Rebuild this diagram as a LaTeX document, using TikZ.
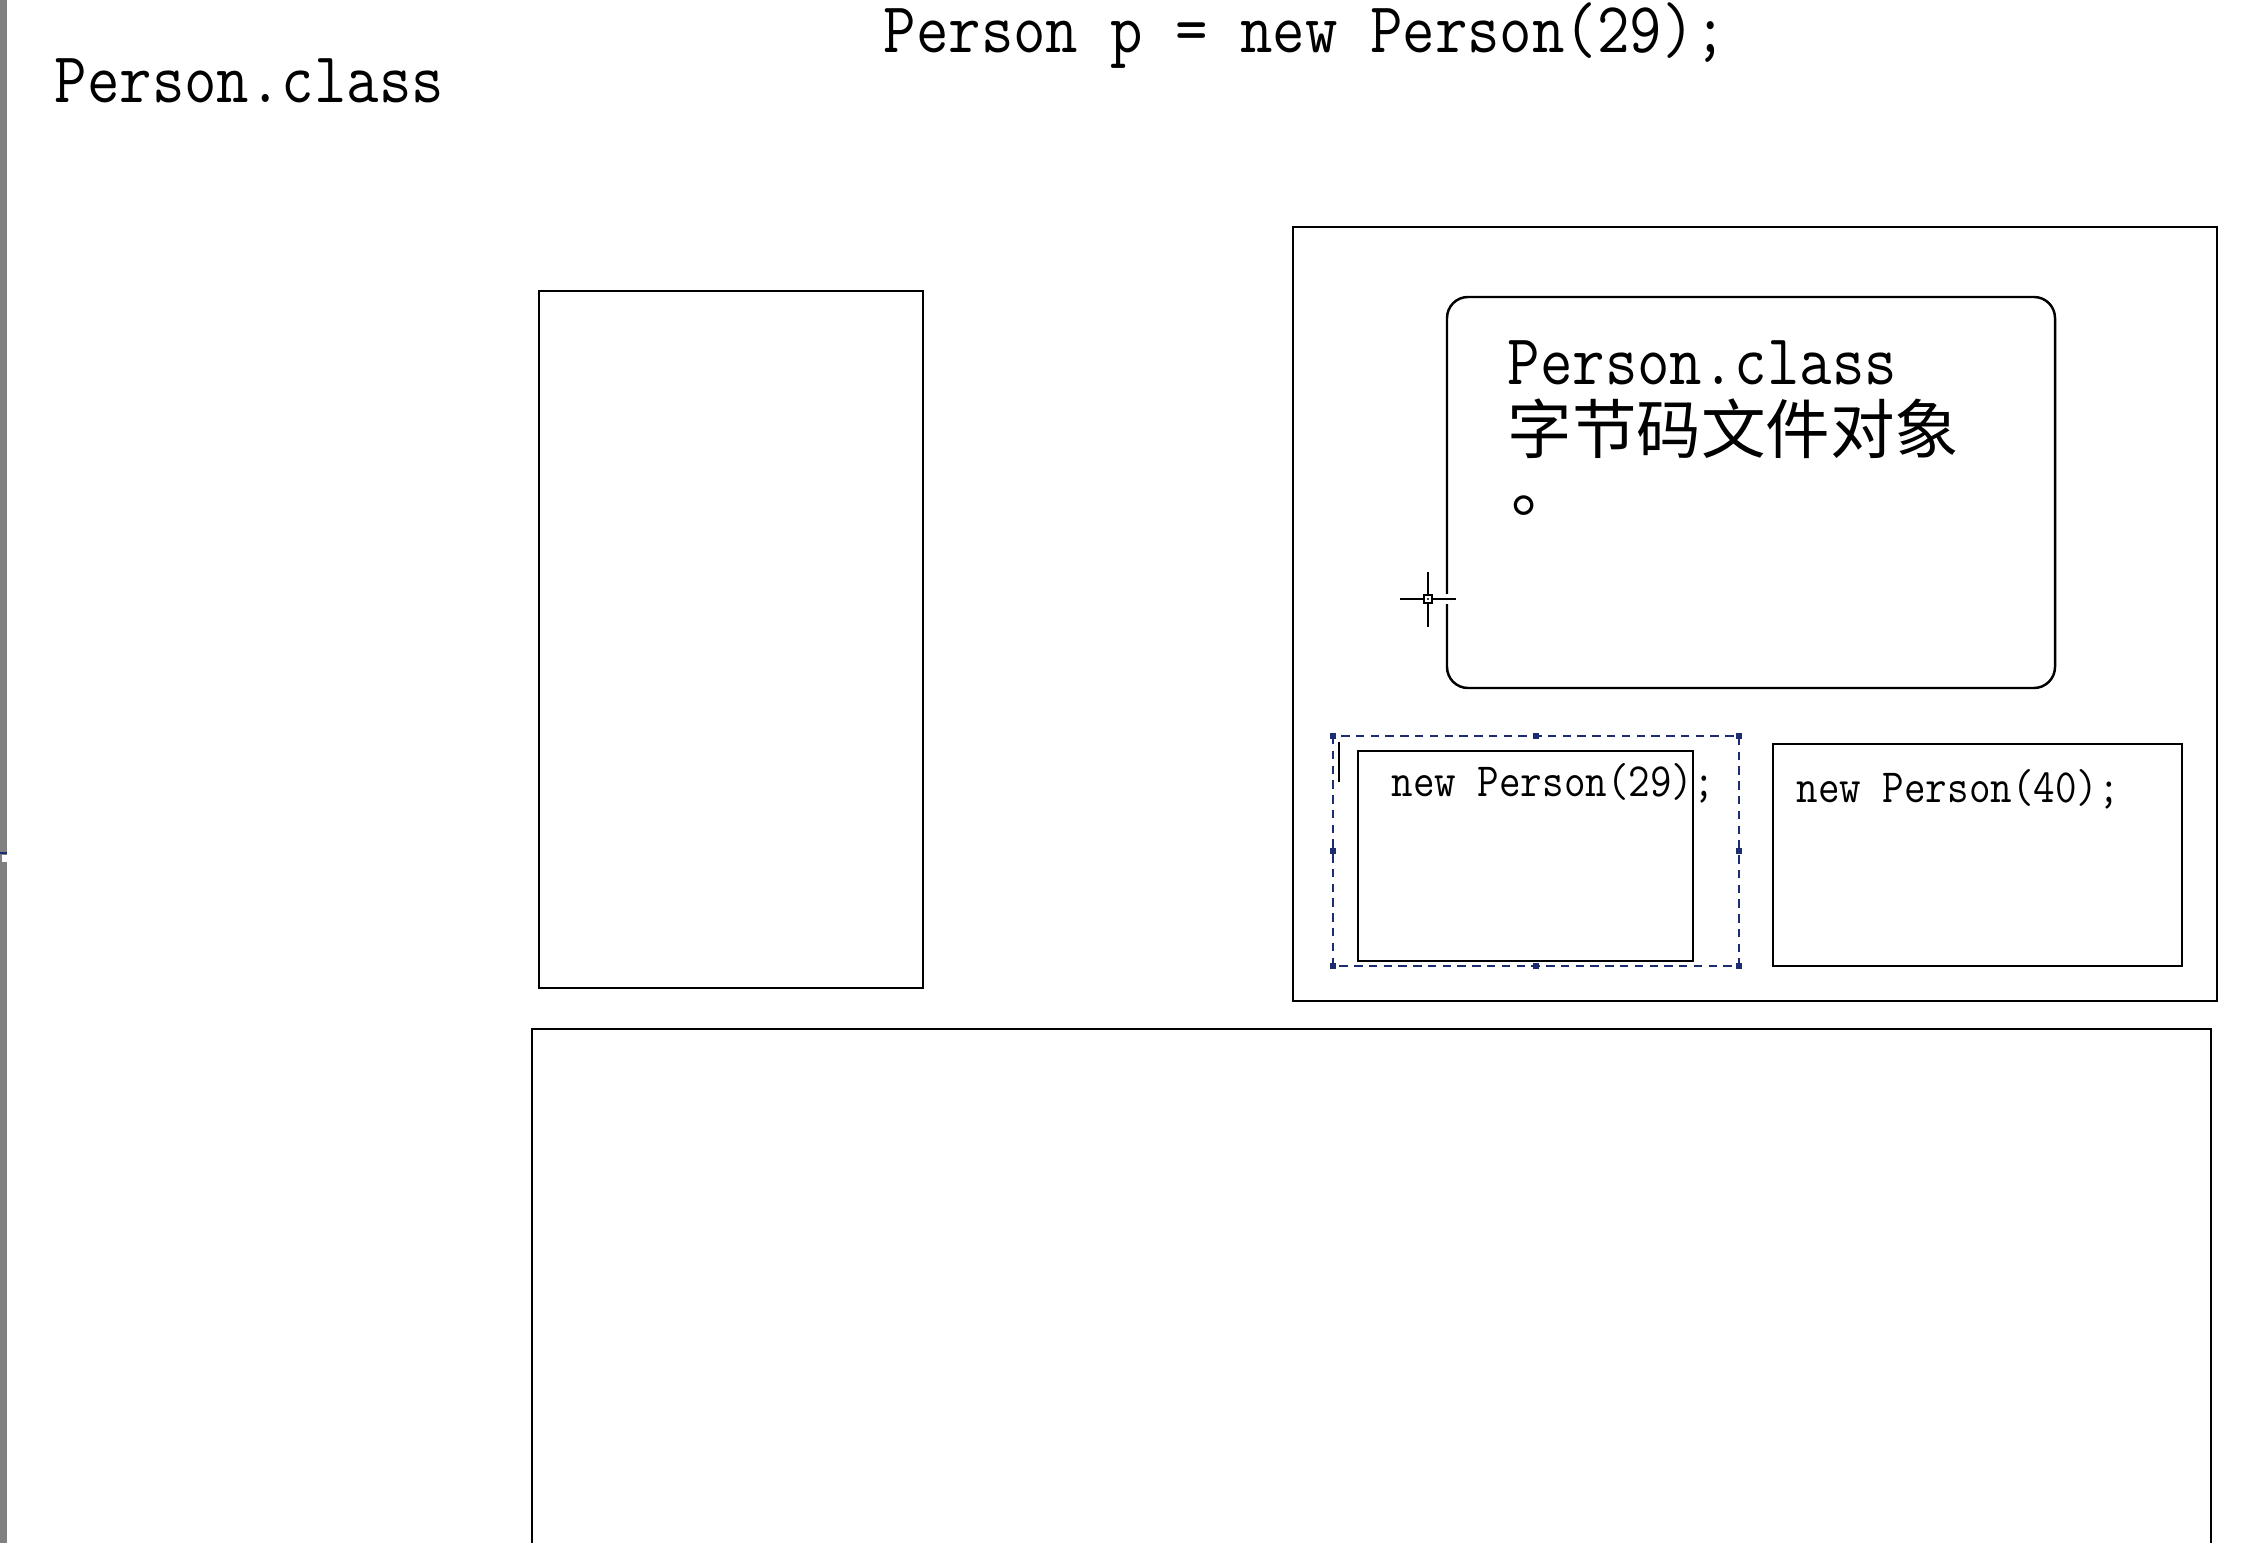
\documentclass[tikz,border=0pt]{standalone}
\usepackage{fontspec}
\setmonofont{Latin Modern Mono}[FakeStretch=0.878]
\newfontfamily\cjk{Noto Sans CJK SC}
\usetikzlibrary{positioning}
\definecolor{selblue}{RGB}{28,44,112}
\definecolor{bargray}{RGB}{128,128,128}
\tikzset{
x=0.01cm, y=-0.01cm, % one unit is one pixel of the screenshot, y goes down
memframe/.style={draw, line width=0.7pt}, % the plain black boxes
bigcode/.style={font=\ttfamily\fontsize{20.4}{24}\selectfont, inner sep=0pt, anchor=base west}, % large labels
smallcode/.style={font=\ttfamily\fontsize{13.55}{16}\selectfont, inner sep=0pt, anchor=base west}, % labels in the object boxes
cntext/.style={font=\cjk\fontsize{18.35}{22}\selectfont, inner sep=0pt, anchor=base west}, % chinese text
selbox/.style={draw=selblue, line width=0.7pt, dash pattern=on 2.4pt off 1.8pt}, % selection frame
handle/.style={fill=selblue, minimum size=0.06cm, inner sep=0pt}, % its grips
}

\begin{document}
\begin{tikzpicture}
  \useasboundingbox (0,0) rectangle (2248,1543);
  \clip (0,0) rectangle (2248,1543);

  % window edge
  \fill[bargray] (0,0) rectangle (7,1543);
  \fill[white] (2,855) rectangle (7,862);
  \draw[selblue, line width=0.5pt] (0,853) -- (7,853);

  % texts at the top
  \node[bigcode] (clsname) at (54,103) {Person.class};
  \node[bigcode] (stmt) at (883,53) {Person p = new Person(29);};

  % stack, heap and the box below
  \draw[memframe] (539,291) rectangle (923,988);
  \draw[memframe] (1293,227) rectangle (2217,1001);
  \draw[memframe] (532,1029) rectangle (2211,1600);

  % class object in the heap
  \draw[memframe, rounded corners=0.21cm] (1447,297) rectangle (2055,688);
  \node[bigcode] (clsobj) at (1507,385) {Person.class};
  \node[cntext] (clsobjcn) at (1507,454) {字节码文件对象};
  \node[cntext] (clsdot) at (1511,512) {。};

  % cursor on the left edge
  \fill[white] (1444,594) rectangle (1450,604);
  \draw[line width=0.6pt] (1400,599) -- (1456,599);
  \draw[line width=0.6pt] (1428,572) -- (1428,627);
  \draw[line width=0.6pt, fill=white] (1424,595) rectangle (1432,603);
  \fill (1428,599) circle (1.2);

  % the two objects
  \draw[memframe] (1358,751) rectangle (1693,961);
  \node[smallcode] (obj1) at (1391,797) {new Person(29);};
  \draw[memframe] (1773,744) rectangle (2182,966);
  \node[smallcode] (obj2) at (1796,803) {new Person(40);};

  % selection round the first object
  \draw[selbox] (1333,736) rectangle (1739,966);
  \foreach \hx/\hy [count=\i] in {1333/736, 1536/736, 1739/736, 1333/851, 1739/851, 1333/966, 1536/966, 1739/966}
    \node[handle] (grip\i) at (\hx,\hy) {};
  \draw[line width=0.7pt] (1339,742) -- (1339,782);
\end{tikzpicture}
\end{document}
